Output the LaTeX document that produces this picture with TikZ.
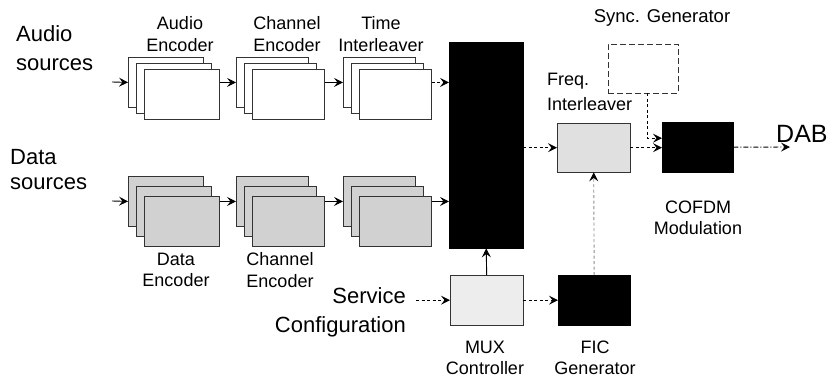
\documentclass[tikz,border=0pt]{standalone}
\usepackage{fontspec}
\setmainfont{Liberation Sans}
\usetikzlibrary{arrows.meta,positioning,calc}
\newcommand\labfont{\fontsize{18}{21.5}\selectfont}
\newcommand\sidefont{\fontsize{22}{29}\selectfont}
\begin{document}
\begin{tikzpicture}[x=1pt,y=-1pt,>={Stealth[length=9pt,width=9pt,inset=3.5pt]},
card/.style={draw=black!80,fill=white,line width=.8pt,minimum width=#1,minimum height=50pt,anchor=north west,inner sep=0pt},
dcard/.style={card=#1,fill=black!18},
blk/.style={draw,fill=black,minimum width=72pt,minimum height=50pt,inner sep=0pt,anchor=north west},
lbl/.style={font=\labfont,align=center,inner sep=0pt},
side/.style={font=\sidefont,inner sep=0pt},
conn/.style={->,line width=.9pt},
dconn/.style={conn,dash pattern=on 3pt off 2.5pt}]
\useasboundingbox[fill=white] (0,0) rectangle (831,381);
\foreach \n/\x/\w in {aenc/128/75,achan/236/72,aint/343/72}{
\node[card=\w pt] (\n1) at (\x,57) {};
\node[card=\w pt] (\n2) at (\x+8,63) {};
\node[card=\w pt] (\n3) at (\x+16,69) {};
}
\foreach \n/\x/\w in {denc/128/75,dchan/236/72,dint/343/72}{
\node[dcard=\w pt] (\n1) at (\x,176) {};
\node[dcard=\w pt] (\n2) at (\x+8,186) {};
\node[dcard=\w pt] (\n3) at (\x+16,196) {};
}
\node[blk,minimum width=74pt,minimum height=206pt] (mux) at (449,42) {};
\node[blk,draw=black!80,fill=white,dash pattern=on 6pt off 3pt,minimum width=70pt,minimum height=49pt] (sync) at (608,44) {};
\node[blk,draw=black!80,fill=black!12,minimum width=73pt,minimum height=49pt] (fi) at (557,123) {};
\node[blk,minimum width=71pt,minimum height=50pt] (cofdm) at (662,122) {};
\node[blk,draw=black!80,fill=black!7,minimum width=73pt] (muxc) at (450,275) {};
\node[blk] (fic) at (558,275) {};
\node[side,align=left,anchor=west] (asrc) at (16,48) {Audio\\sources};
\node[side,align=left,anchor=west,font=\fontsize{22}{25}\selectfont] (dsrc) at (10,170) {Data\\sources};
\node[side,align=right,anchor=east] (svc) at (406,312) {Service\\Configuration};
\node[lbl] (aenclbl) at (180,34) {Audio\\Encoder};
\node[lbl] (achanlbl) at (287,34) {Channel\\Encoder};
\node[lbl] (aintlbl) at (381,34) {Time\\Interleaver};
\node[lbl] (denclbl) at (176,270) {Data\\Encoder};
\node[lbl] (dchanlbl) at (280,270) {Channel\\Encoder};
\node[lbl,font=\fontsize{18.5}{22}\selectfont] (synclbl) at (662,18) {Sync. Generator};
\node[lbl,align=left,anchor=west,font=\fontsize{18}{25}\selectfont] (filbl) at (547,92) {Freq.\\Interleaver};
\node[lbl] (cofdmlbl) at (698,218) {COFDM\\Modulation};
\node[lbl] (muxclbl) at (485,358) {MUX\\Controller};
\node[lbl] (ficlbl) at (595,358) {FIC\\Generator};
\node[inner sep=0pt,anchor=west,font=\fontsize{25}{28}\selectfont] (dab) at (776,134) {DAB};
\coordinate (ain) at (112,82);
\coordinate (din) at (112,201);
\coordinate (out) at (790,147);
\draw[conn] (ain) -- (aenc1.west);
\draw[conn] (aenc3.east |- aenc1.west) -- (achan1.west);
\draw[conn] (achan3.east |- achan1.west) -- (aint1.west);
\draw[dconn] (aint3.east |- aint1.west) -- (mux.west |- aint1.west);
\draw[conn] (din) -- (denc1.west);
\draw[conn] (denc3.east |- denc1.west) -- (dchan1.west);
\draw[conn] (dchan3.east |- dchan1.west) -- (dint1.west);
\draw[conn] (dint3.east |- dint1.west) -- (mux.west |- dint1.west);
\draw[dconn] (mux.east |- fi.west) -- (fi.west);
\draw[dconn] (fi.east) -- (cofdm.west |- fi.east);
\draw[dconn] ([xshift=4pt]sync.south) |- ([yshift=9pt]cofdm.west);
\draw[conn,dash pattern=on 5pt off 2pt on 1pt off 2pt] (cofdm.east) -- (out);
\draw[conn] (muxc.north) -- (mux.south);
\draw[dconn] ([xshift=10pt]svc.east |- muxc.west) -- (muxc.west);
\draw[dconn] (muxc.east) -- (fic.west);
\draw[dconn,draw=black!45,-{Stealth[length=9pt,width=9pt,inset=3.5pt,color=black]}] (fic.north) -- (fi.south);
\end{tikzpicture}
\end{document}
